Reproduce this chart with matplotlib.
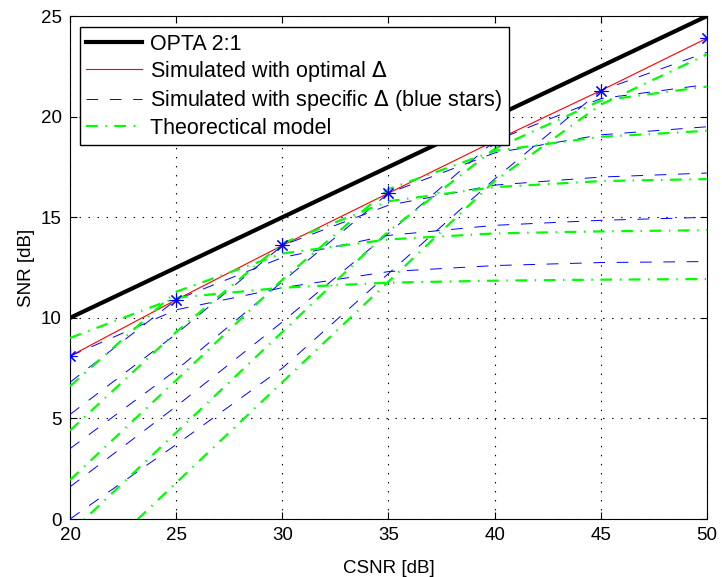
import matplotlib.pyplot as plt

plt.rcParams['font.family'] = ['Liberation Sans', 'DejaVu Sans']
plt.rcParams['lines.scale_dashes'] = False

# CSNR grid (dB)
csnr = [20, 25, 30, 35, 40, 45, 50]

# OPTA bound for 2:1 bandwidth reduction
opta = [10, 12.5, 15, 17.5, 20, 22.5, 25]

# simulated SNR with the optimal delta at each CSNR
sim_opt = [8.1, 10.9, 13.6, 16.2, 18.8, 21.3, 23.9]

# simulated SNR for fixed deltas (one row per delta)
sim_fixed = [
    [8.1, 10.4, 11.5, 12.3, 12.6, 12.75, 12.8],
    [6.8, 10.9, 13.0, 14.1, 14.6, 14.85, 15.0],
    [5.2, 9.2, 13.6, 15.6, 16.6, 17.0, 17.2],
    [3.5, 7.4, 11.8, 16.2, 18.2, 19.1, 19.5],
    [1.6, 5.6, 9.8, 14.2, 18.8, 20.9, 21.6],
    [0.0, 3.7, 7.5, 12.2, 16.9, 21.3, 23.2],
]

# theoretical model for the same deltas
theory = [
    [9.0, 11.0, 11.5, 11.75, 11.85, 11.9, 11.93],
    [6.6, 11.3, 13.2, 13.9, 14.2, 14.3, 14.36],
    [4.4, 9.3, 13.7, 15.8, 16.5, 16.8, 16.9],
    [1.94, 6.9, 11.9, 16.4, 18.3, 19.0, 19.3],
    [-0.7, 4.3, 9.3, 14.3, 18.4, 20.8, 21.5],
    [-3.2, 1.8, 6.8, 11.8, 16.8, 20.6, 23.1],
]

fig = plt.figure(figsize=(7.22, 5.77), dpi=100)
ax = fig.add_axes([0.097, 0.1005, 0.882, 0.8715])

ax.plot(csnr, opta, color='k', linewidth=3, label='OPTA 2:1', zorder=3)
ax.plot(csnr, sim_opt, color='r', linewidth=0.8,
        label='Simulated with optimal $\\Delta$', zorder=4)
for i, row in enumerate(sim_fixed):
    ax.plot(csnr, row, color='b', linewidth=0.7, linestyle=(0, (8.4, 8.4)),
            label='Simulated with specific $\\Delta$ (blue stars)' if i == 0 else None,
            zorder=5)
for i, row in enumerate(theory):
    ax.plot(csnr, row, color=(0, 1, 0), linewidth=1.6,
            linestyle=(0, (8.4, 5.5, 1, 5.5)),
            label='Theorectical model' if i == 0 else None, zorder=6)
# asterisk markers at the optimal points
ax.plot(csnr, sim_opt, linestyle='none', marker=(8, 2, 0), markersize=10,
        markeredgewidth=0.8, color='b', zorder=7)

ax.set_xlim(20, 50)
ax.set_ylim(0, 25)
ax.set_xticks(range(20, 51, 5))
ax.set_yticks(range(0, 26, 5))
ax.tick_params(direction='in', top=True, right=True, length=5, width=0.8,
               labelsize=13.5, pad=6)
ax.grid(True, color='k', linestyle=(0, (1, 5.5)), linewidth=0.8)
for s in ax.spines.values():
    s.set_linewidth(0.8)
ax.set_xlabel('CSNR [dB]', fontsize=13.5, labelpad=11)
ax.set_ylabel('SNR [dB]', fontsize=13.5, labelpad=4)

leg = ax.legend(loc='upper left', bbox_to_anchor=(0.0157, 0.978),
                borderaxespad=0, fontsize=15.5, handlelength=2.6,
                handletextpad=0.35, labelspacing=0.2, borderpad=0.3,
                fancybox=False, framealpha=1, edgecolor='k')
leg.get_frame().set_linewidth(1)
leg.set_zorder(10)

fig.savefig('out.png', dpi=100)
